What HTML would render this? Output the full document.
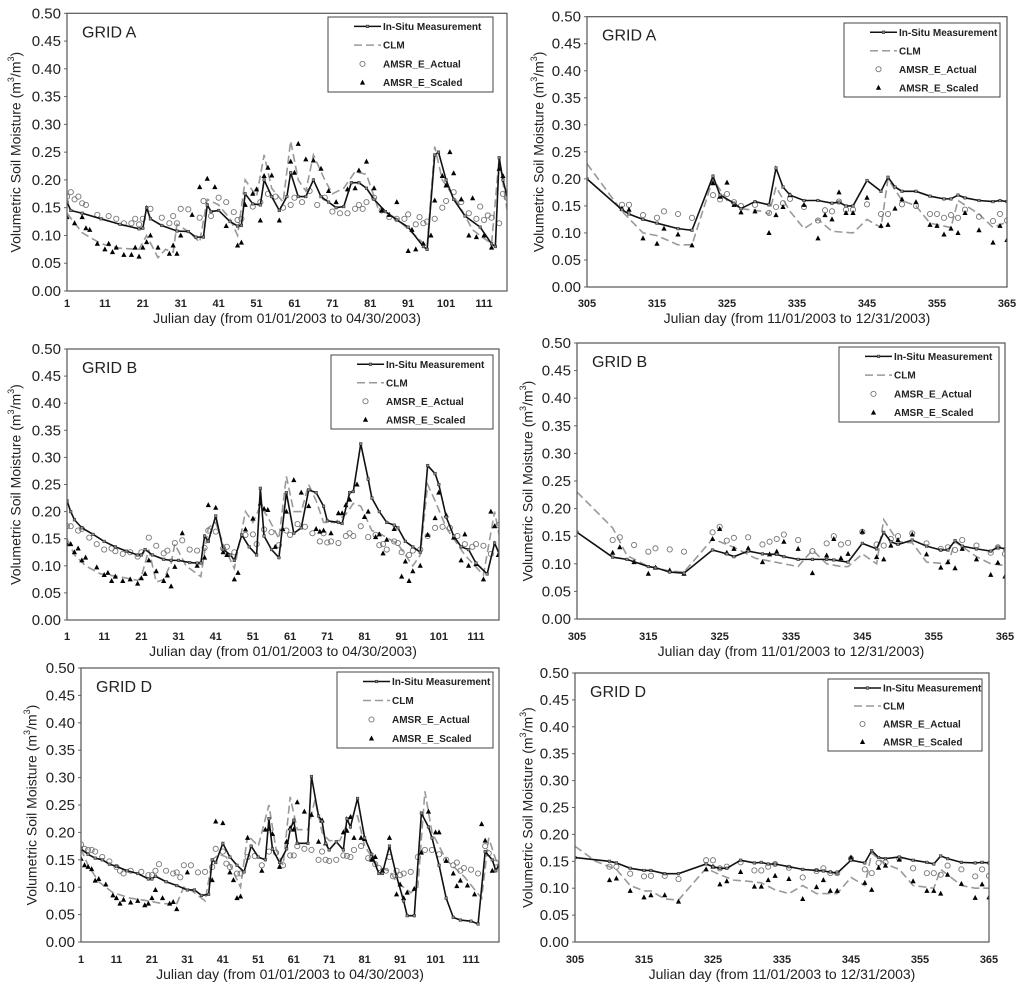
<!DOCTYPE html>
<html><head><meta charset="utf-8">
<style>
html,body{margin:0;padding:0;background:#fff;}
svg{display:block;font-family:"Liberation Sans",Arial,sans-serif;}
</style></head>
<body>
<svg id="chart" width="1024" height="988" viewBox="0 0 1024 988" xmlns="http://www.w3.org/2000/svg"></svg>
<script>
// ---------- DATA ----------
const yTicks = [0,0.05,0.10,0.15,0.20,0.25,0.30,0.35,0.40,0.45,0.50];
const xTicksSpring = [1,11,21,31,41,51,61,71,81,91,101,111];
const xTicksWinter = [305,315,325,335,345,355,365];
const legendLabels = ["In-Situ Measurement","CLM","AMSR_E_Actual","AMSR_E_Scaled"];

// Grid A spring
const aL_insitu_days=[1,2,5,10,15,20,21,22,23,26,30,33,35,37,38,39,41,44,46,47,48,50,52,53,55,57,59,60,62,64,66,68,70,72,74,76,78,80,82,85,88,91,95,96,98,99,101,103,106,110,113,114,115,116,118,120];
const aL_insitu_vals=[0.16,0.145,0.14,0.13,0.12,0.112,0.113,0.15,0.13,0.118,0.108,0.107,0.097,0.097,0.155,0.143,0.145,0.125,0.117,0.118,0.175,0.157,0.155,0.2,0.17,0.145,0.17,0.213,0.17,0.17,0.2,0.17,0.16,0.15,0.152,0.195,0.195,0.185,0.165,0.143,0.128,0.115,0.08,0.075,0.245,0.25,0.2,0.165,0.135,0.115,0.085,0.08,0.24,0.2,0.145,0.13];
const aL_clm_days=[1,5,10,15,20,22,25,27,29,30,33,36,38,41,44,46,48,51,53,55,58,60,62,64,66,69,71,74,77,80,83,88,92,96,98,100,104,108,113,115,117,119];
const aL_clm_vals=[0.14,0.105,0.085,0.077,0.075,0.1,0.06,0.075,0.07,0.12,0.107,0.088,0.165,0.155,0.13,0.1,0.2,0.17,0.245,0.185,0.16,0.27,0.2,0.18,0.245,0.2,0.175,0.185,0.215,0.21,0.15,0.13,0.105,0.08,0.26,0.2,0.16,0.11,0.085,0.24,0.15,0.17];
const aL_act_days=[1,2,3,4,5,6,9,12,14,16,18,19,20,21,23,26,28,29,30,31,33,36,37,39,41,43,45,46,47,50,52,54,56,58,60,61,63,65,67,69,71,73,75,77,78,79,80,82,84,86,88,90,91,93,94,95,96,98,100,101,103,105,107,109,110,111,112,113,115,116,117];
const aL_act_vals=[0.17,0.178,0.165,0.17,0.158,0.155,0.137,0.135,0.13,0.122,0.122,0.13,0.12,0.13,0.148,0.132,0.122,0.135,0.122,0.148,0.147,0.132,0.162,0.135,0.168,0.16,0.142,0.128,0.13,0.152,0.16,0.175,0.17,0.15,0.155,0.168,0.16,0.18,0.155,0.168,0.143,0.14,0.14,0.148,0.155,0.148,0.16,0.168,0.145,0.133,0.13,0.13,0.138,0.12,0.133,0.122,0.125,0.13,0.15,0.162,0.178,0.16,0.14,0.13,0.152,0.128,0.136,0.132,0.122,0.175,0.168];
const aL_sc_days=[1,3,5,6,7,9,11,12,13,14,16,18,19,20,21,22,23,25,28,29,30,31,34,36,38,40,43,46,47,48,50,51,52,53,54,55,57,60,61,62,64,66,68,70,72,75,77,78,80,82,84,86,88,91,92,93,95,97,98,100,101,102,103,105,107,108,109,111,113,115,116,118];
const aL_sc_vals=[0.133,0.122,0.133,0.113,0.11,0.085,0.075,0.085,0.07,0.078,0.065,0.065,0.078,0.062,0.078,0.088,0.1,0.078,0.067,0.082,0.067,0.1,0.137,0.187,0.202,0.187,0.117,0.082,0.087,0.155,0.175,0.183,0.127,0.207,0.222,0.208,0.127,0.233,0.213,0.265,0.237,0.235,0.22,0.18,0.16,0.183,0.185,0.217,0.233,0.185,0.145,0.137,0.16,0.072,0.11,0.075,0.085,0.1,0.163,0.207,0.19,0.25,0.212,0.165,0.1,0.167,0.097,0.1,0.078,0.22,0.207,0.13];

// Grid A winter
const aR_insitu_days=[305,310,311,313,315,318,320,323,324,326,327,329,331,332,333,334,336,338,340,341,342,343,345,347,348,349,350,352,354,356,357,358,359,361,363,364,365];
const aR_insitu_vals=[0.2,0.143,0.135,0.125,0.118,0.108,0.105,0.205,0.17,0.155,0.145,0.158,0.152,0.22,0.185,0.17,0.16,0.16,0.155,0.157,0.15,0.15,0.197,0.177,0.203,0.185,0.177,0.177,0.168,0.163,0.163,0.17,0.165,0.16,0.158,0.16,0.158];
const aR_clm_days=[305,310,313,315,318,320,323,325,327,330,331,332,334,336,338,340,343,345,347,348,350,352,354,357,358,361,363,365];
const aR_clm_vals=[0.228,0.14,0.1,0.095,0.078,0.078,0.2,0.16,0.145,0.14,0.135,0.185,0.14,0.108,0.125,0.103,0.1,0.125,0.11,0.2,0.16,0.15,0.118,0.11,0.16,0.135,0.11,0.12];
const aR_act_days=[310,311,313,315,316,318,320,323,324,325,326,327,329,331,332,333,334,336,338,339,340,341,342,343,345,347,348,350,352,354,355,356,357,358,359,361,363,364,365];
const aR_act_vals=[0.152,0.152,0.133,0.128,0.14,0.135,0.128,0.17,0.162,0.172,0.157,0.15,0.152,0.137,0.148,0.155,0.163,0.148,0.123,0.142,0.14,0.158,0.143,0.143,0.153,0.135,0.135,0.153,0.15,0.135,0.135,0.128,0.133,0.128,0.143,0.13,0.122,0.135,0.123];
const aR_sc_days=[310,311,313,315,316,318,320,323,324,325,326,327,329,331,332,333,334,336,338,339,340,341,342,343,345,347,348,349,350,352,354,355,356,357,358,359,361,363,364,365];
const aR_sc_vals=[0.145,0.143,0.09,0.08,0.108,0.097,0.077,0.192,0.167,0.193,0.152,0.138,0.14,0.1,0.133,0.148,0.17,0.152,0.09,0.133,0.125,0.175,0.137,0.137,0.165,0.113,0.115,0.145,0.162,0.157,0.115,0.113,0.097,0.108,0.1,0.137,0.105,0.082,0.113,0.087];

// Grid B spring
const bL_insitu_days=[1,2,3,5,8,11,14,17,20,21,22,24,27,29,31,34,36,37,38,39,41,43,45,46,48,50,52,53,54,56,58,60,62,64,66,68,70,71,74,75,77,78,80,82,83,85,87,89,90,92,94,96,98,100,101,103,105,107,109,111,114,116,118,119,121];
const bL_insitu_vals=[0.22,0.2,0.185,0.17,0.158,0.145,0.135,0.127,0.12,0.12,0.13,0.12,0.112,0.11,0.11,0.106,0.105,0.105,0.155,0.145,0.192,0.13,0.12,0.11,0.157,0.135,0.12,0.243,0.155,0.13,0.115,0.235,0.16,0.17,0.24,0.235,0.21,0.183,0.18,0.178,0.235,0.237,0.325,0.26,0.225,0.2,0.18,0.175,0.17,0.145,0.135,0.125,0.285,0.27,0.25,0.19,0.155,0.135,0.13,0.105,0.085,0.142,0.11,0.093,0.11];
const bL_clm_days=[1,3,6,10,15,20,21,23,25,27,29,30,33,37,39,41,43,46,49,51,53,55,58,60,62,64,66,68,70,73,76,78,80,83,85,90,92,94,96,98,100,103,108,113,116,118,120];
const bL_clm_vals=[0.15,0.12,0.1,0.085,0.08,0.073,0.08,0.13,0.07,0.075,0.105,0.14,0.1,0.08,0.17,0.18,0.14,0.095,0.2,0.18,0.21,0.19,0.15,0.265,0.2,0.2,0.25,0.22,0.18,0.18,0.195,0.215,0.21,0.165,0.16,0.14,0.12,0.1,0.12,0.25,0.22,0.17,0.12,0.083,0.2,0.13,0.17];
const bL_act_days=[1,2,4,5,7,9,11,13,14,16,18,20,21,23,25,27,28,30,32,34,36,38,39,41,43,44,46,49,51,52,54,56,58,60,61,63,65,67,69,70,71,72,74,76,77,78,80,82,84,85,86,87,89,90,91,93,94,96,98,100,102,104,106,108,110,111,113,115,117,118,119,120];
const bL_act_vals=[0.173,0.173,0.165,0.168,0.152,0.14,0.13,0.132,0.127,0.122,0.125,0.117,0.125,0.152,0.137,0.123,0.128,0.142,0.147,0.13,0.128,0.133,0.165,0.163,0.132,0.135,0.125,0.157,0.158,0.14,0.167,0.162,0.138,0.165,0.157,0.177,0.172,0.16,0.145,0.16,0.143,0.145,0.142,0.155,0.16,0.155,0.173,0.153,0.157,0.138,0.14,0.13,0.145,0.142,0.125,0.12,0.128,0.13,0.155,0.17,0.172,0.17,0.155,0.14,0.135,0.14,0.137,0.122,0.175,0.163,0.143,0.143];
const bL_sc_days=[1,2,3,4,5,6,9,11,12,13,14,16,18,20,21,22,23,25,27,28,29,30,32,36,38,39,41,43,44,46,47,49,51,53,54,55,57,59,60,62,64,66,68,69,70,72,74,75,76,77,79,81,82,84,85,86,87,89,91,92,93,94,96,98,100,101,103,105,107,108,109,111,113,115,116,117,118];
const bL_sc_vals=[0.14,0.14,0.125,0.132,0.11,0.115,0.097,0.083,0.087,0.072,0.08,0.072,0.075,0.067,0.077,0.085,0.11,0.09,0.072,0.082,0.062,0.098,0.16,0.1,0.115,0.212,0.207,0.125,0.12,0.075,0.087,0.167,0.187,0.215,0.205,0.203,0.135,0.168,0.2,0.258,0.235,0.21,0.168,0.163,0.165,0.16,0.197,0.197,0.212,0.222,0.25,0.19,0.2,0.153,0.158,0.123,0.148,0.168,0.08,0.108,0.072,0.09,0.1,0.157,0.188,0.235,0.193,0.152,0.11,0.158,0.1,0.103,0.075,0.2,0.173,0.12,0.123];

// Grid B winter
const bR_insitu_days=[305,310,312,315,316,318,320,324,326,327,329,331,333,334,336,338,340,341,343,345,347,348,349,350,352,354,356,357,358,359,361,363,364,365];
const bR_insitu_vals=[0.157,0.112,0.108,0.095,0.093,0.085,0.083,0.125,0.118,0.113,0.123,0.118,0.117,0.113,0.108,0.108,0.108,0.107,0.103,0.137,0.127,0.157,0.14,0.135,0.143,0.132,0.125,0.125,0.142,0.132,0.127,0.123,0.13,0.127];
const bR_clm_days=[305,310,312,315,318,320,324,327,330,334,336,338,340,342,343,345,347,348,350,352,354,357,358,361,363,365];
const bR_clm_vals=[0.23,0.165,0.115,0.095,0.087,0.085,0.145,0.13,0.11,0.1,0.095,0.125,0.1,0.095,0.095,0.118,0.1,0.18,0.14,0.138,0.103,0.1,0.14,0.113,0.1,0.097];
const bR_act_days=[310,311,313,315,316,318,320,324,325,326,327,329,331,332,333,334,336,338,340,341,342,343,345,347,348,349,350,352,354,356,357,358,359,361,363,364,365];
const bR_act_vals=[0.143,0.148,0.134,0.122,0.128,0.126,0.122,0.157,0.167,0.142,0.147,0.148,0.135,0.14,0.145,0.153,0.143,0.123,0.137,0.15,0.135,0.138,0.158,0.135,0.133,0.145,0.15,0.155,0.137,0.127,0.13,0.125,0.143,0.133,0.12,0.13,0.118];
const bR_sc_days=[310,311,313,315,316,318,320,324,325,326,327,329,331,332,333,334,336,338,340,341,342,343,345,347,348,349,350,352,354,356,357,358,359,361,363,364,365];
const bR_sc_vals=[0.12,0.13,0.103,0.082,0.093,0.088,0.082,0.145,0.163,0.12,0.127,0.128,0.103,0.117,0.122,0.14,0.127,0.083,0.115,0.145,0.11,0.118,0.158,0.112,0.108,0.133,0.143,0.153,0.117,0.093,0.103,0.092,0.127,0.108,0.08,0.102,0.077];

// Grid D spring
const dL_insitu_days=[1,3,5,7,9,11,14,17,20,21,22,25,28,31,33,35,37,38,39,41,43,45,47,49,51,53,54,55,57,59,60,61,62,65,66,68,69,70,71,73,75,76,77,79,81,83,85,86,88,90,92,93,95,97,99,100,102,104,106,108,111,113,115,117,118,120];
const dL_insitu_vals=[0.17,0.16,0.153,0.15,0.142,0.138,0.13,0.125,0.115,0.115,0.12,0.11,0.103,0.095,0.095,0.085,0.087,0.15,0.145,0.18,0.155,0.14,0.128,0.175,0.155,0.15,0.225,0.17,0.145,0.17,0.205,0.222,0.18,0.18,0.302,0.23,0.22,0.18,0.168,0.183,0.168,0.225,0.21,0.262,0.19,0.16,0.125,0.125,0.175,0.12,0.075,0.048,0.048,0.235,0.21,0.19,0.14,0.08,0.045,0.04,0.038,0.033,0.165,0.15,0.13,0.155];
const dL_clm_days=[1,3,6,10,15,20,24,28,30,32,36,38,40,42,46,48,51,54,56,58,60,62,65,67,69,71,74,77,79,81,85,88,90,94,96,98,100,104,109,114,116,119,121];
const dL_clm_vals=[0.17,0.14,0.11,0.09,0.08,0.075,0.07,0.07,0.1,0.095,0.075,0.15,0.16,0.155,0.1,0.195,0.175,0.25,0.17,0.14,0.265,0.205,0.205,0.26,0.2,0.185,0.185,0.23,0.23,0.175,0.135,0.13,0.11,0.09,0.1,0.275,0.2,0.15,0.12,0.08,0.19,0.13,0.18];
const dL_act_days=[1,2,3,4,5,7,9,11,12,13,15,18,20,21,22,23,25,27,28,29,30,32,34,36,38,39,41,42,43,45,46,48,50,52,54,56,58,60,61,62,64,66,68,69,70,71,73,75,76,77,78,80,82,83,84,85,87,88,89,90,91,92,94,96,98,100,102,104,106,107,108,109,111,113,115,116,118];
const dL_act_vals=[0.178,0.17,0.168,0.168,0.165,0.155,0.147,0.137,0.13,0.125,0.13,0.128,0.122,0.122,0.13,0.142,0.13,0.125,0.127,0.118,0.14,0.14,0.127,0.128,0.137,0.17,0.165,0.143,0.137,0.125,0.125,0.155,0.157,0.14,0.165,0.163,0.14,0.158,0.158,0.175,0.17,0.168,0.15,0.165,0.15,0.148,0.15,0.158,0.157,0.155,0.168,0.175,0.153,0.153,0.142,0.135,0.13,0.155,0.12,0.13,0.122,0.125,0.128,0.155,0.168,0.168,0.16,0.15,0.14,0.145,0.13,0.135,0.132,0.125,0.175,0.162,0.145];
const dL_sc_days=[1,2,3,4,5,6,8,10,11,12,13,15,17,19,20,21,22,24,26,27,28,31,38,39,41,43,44,45,46,48,52,53,54,55,57,59,60,61,62,64,66,68,69,70,75,76,77,78,80,81,83,84,86,88,90,91,92,93,95,97,99,101,102,104,106,107,108,110,112,114,115,117];
const dL_sc_vals=[0.152,0.14,0.137,0.133,0.112,0.115,0.105,0.085,0.08,0.07,0.077,0.072,0.075,0.067,0.07,0.08,0.095,0.08,0.07,0.073,0.06,0.127,0.113,0.22,0.217,0.127,0.113,0.08,0.083,0.19,0.13,0.205,0.207,0.197,0.137,0.183,0.208,0.205,0.255,0.238,0.232,0.183,0.222,0.18,0.2,0.203,0.228,0.19,0.19,0.188,0.15,0.155,0.13,0.19,0.087,0.105,0.08,0.09,0.097,0.163,0.238,0.2,0.2,0.148,0.125,0.102,0.112,0.103,0.087,0.215,0.185,0.13];

// Grid D winter
const dR_insitu_days=[305,310,311,313,315,316,318,320,324,325,326,327,329,331,332,333,334,336,338,340,341,342,343,345,347,348,349,350,352,354,356,357,358,359,361,363,364,365];
const dR_insitu_vals=[0.157,0.15,0.147,0.137,0.133,0.133,0.127,0.127,0.145,0.14,0.137,0.137,0.152,0.147,0.148,0.145,0.145,0.14,0.135,0.133,0.132,0.13,0.128,0.152,0.147,0.17,0.157,0.155,0.158,0.152,0.148,0.145,0.16,0.155,0.148,0.147,0.148,0.147];
const dR_clm_days=[305,308,311,313,315,316,318,320,324,326,328,330,332,334,336,338,340,342,343,345,347,348,350,352,354,357,358,361,363,365];
const dR_clm_vals=[0.178,0.15,0.135,0.105,0.095,0.095,0.08,0.078,0.137,0.125,0.115,0.113,0.11,0.097,0.09,0.105,0.09,0.09,0.09,0.12,0.105,0.165,0.145,0.135,0.105,0.1,0.135,0.105,0.1,0.1];
const dR_act_days=[310,311,313,315,316,318,320,324,325,326,327,329,331,332,333,334,336,338,340,341,342,343,345,347,348,349,350,352,354,356,357,358,359,361,363,364,365];
const dR_act_vals=[0.14,0.14,0.127,0.122,0.123,0.123,0.117,0.152,0.152,0.137,0.14,0.148,0.133,0.133,0.14,0.145,0.138,0.12,0.132,0.137,0.128,0.128,0.155,0.135,0.128,0.147,0.148,0.155,0.137,0.128,0.128,0.125,0.142,0.135,0.122,0.135,0.123];
const dR_sc_days=[310,311,313,315,316,318,320,324,325,326,327,329,331,332,333,334,336,338,340,341,342,343,345,347,348,349,350,352,354,356,357,358,359,361,363,364,365];
const dR_sc_vals=[0.115,0.118,0.095,0.083,0.087,0.087,0.075,0.135,0.14,0.107,0.113,0.13,0.103,0.103,0.115,0.123,0.117,0.08,0.102,0.115,0.095,0.095,0.157,0.11,0.097,0.138,0.142,0.153,0.113,0.095,0.095,0.09,0.125,0.108,0.082,0.107,0.083];

// ---------- DRAWING ----------
const NS="http://www.w3.org/2000/svg";
const svg=document.getElementById('chart');
function mk(tag,attrs,parent){const e=document.createElementNS(NS,tag);for(const k in attrs)e.setAttribute(k,attrs[k]);(parent||svg).appendChild(e);return e;}

const panels=[
 {id:'grid-a-spring',title:'GRID A',L:67,R:507,T:13.3,B:291,d0:1,dTick:111,xTickPx:484,ticks:xTicksSpring,xTitle:'Julian day (from 01/01/2003 to 04/30/2003)',tickY:307,titleY:323,yTitleX:17,leg:[328,17,493,92],ins:[aL_insitu_days,aL_insitu_vals],clm:[aL_clm_days,aL_clm_vals],act:[aL_act_days,aL_act_vals],sc:[aL_sc_days,aL_sc_vals]},
 {id:'grid-a-winter',title:'GRID A',L:587,R:1007,T:16.7,B:287,d0:305,dTick:365,xTickPx:1007,ticks:xTicksWinter,xTitle:'Julian day (from 11/01/2003 to 12/31/2003)',tickY:307,titleY:323,yTitleX:540,leg:[844,23,1000,97],ins:[aR_insitu_days,aR_insitu_vals],clm:[aR_clm_days,aR_clm_vals],act:[aR_act_days,aR_act_vals],sc:[aR_sc_days,aR_sc_vals]},
 {id:'grid-b-spring',title:'GRID B',L:67,R:499,T:349,B:620,d0:1,dTick:111,xTickPx:476,ticks:xTicksSpring,xTitle:'Julian day (from 01/01/2003 to 04/30/2003)',tickY:640,titleY:656,yTitleX:17,leg:[331,355,493,429],ins:[bL_insitu_days,bL_insitu_vals],clm:[bL_clm_days,bL_clm_vals],act:[bL_act_days,bL_act_vals],sc:[bL_sc_days,bL_sc_vals]},
 {id:'grid-b-winter',title:'GRID B',L:577,R:1005,T:343,B:619,d0:305,dTick:365,xTickPx:1005,ticks:xTicksWinter,xTitle:'Julian day (from 11/01/2003 to 12/31/2003)',tickY:640,titleY:656,yTitleX:529,leg:[839,347,999,422],ins:[bR_insitu_days,bR_insitu_vals],clm:[bR_clm_days,bR_clm_vals],act:[bR_act_days,bR_act_vals],sc:[bR_sc_days,bR_sc_vals]},
 {id:'grid-d-spring',title:'GRID D',L:81,R:499,T:668,B:942,d0:1,dTick:111,xTickPx:471,ticks:xTicksSpring,xTitle:'Julian day (from 01/01/2003 to 04/30/2003)',tickY:963,titleY:979,yTitleX:33,leg:[337,672,493,748],ins:[dL_insitu_days,dL_insitu_vals],clm:[dL_clm_days,dL_clm_vals],act:[dL_act_days,dL_act_vals],sc:[dL_sc_days,dL_sc_vals]},
 {id:'grid-d-winter',title:'GRID D',L:575,R:989,T:673,B:942,d0:305,dTick:365,xTickPx:989,ticks:xTicksWinter,xTitle:'Julian day (from 11/01/2003 to 12/31/2003)',tickY:963,titleY:979,yTitleX:529,leg:[828,679,982,751],ins:[dR_insitu_days,dR_insitu_vals],clm:[dR_clm_days,dR_clm_vals],act:[dR_act_days,dR_act_vals],sc:[dR_sc_days,dR_sc_vals]}
];

panels.forEach((p,pi)=>{
  const g=mk('g',{});
  
  
  const pxPerDay=(p.xTickPx-p.L)/(p.dTick-p.d0);
  const xs=d=>p.L+(d-p.d0)*pxPerDay;
  const ys=v=>p.B-(v/0.5)*(p.B-p.T);
  const clipId='clip'+pi;
  const cp=mk('clipPath',{id:clipId},g);
  mk('rect',{x:p.L,y:p.T-6,width:p.R-p.L,height:p.B-p.T+12},cp);

  // y ticks
  yTicks.forEach(v=>{
    const t=mk('text',{x:p.L-6,y:ys(v)+5,'text-anchor':'end','font-size':'15',fill:'#222'},g);
    t.textContent=v.toFixed(2);
    
    
    mk('line',{x1:p.L-3,x2:p.L,y1:ys(v),y2:ys(v),stroke:'#666','stroke-width':1},g);
  });
  p.ticks.forEach(d=>{
    const t=mk('text',{x:xs(d),y:p.tickY,'text-anchor':'middle','font-size':'11','font-weight':'bold',fill:'#222'},g);
    t.textContent=d;
    
    
  });
  const xt=mk('text',{x:(p.L+p.R)/2,y:p.titleY,'text-anchor':'middle','font-size':'14',fill:'#222'},g);
  xt.textContent=p.xTitle;
  
  
  const cy=(p.T+p.B)/2;
  const yt=mk('text',{x:p.yTitleX,y:cy,'text-anchor':'middle','font-size':'14',fill:'#222',transform:`rotate(-90 ${p.yTitleX} ${cy})`,'dominant-baseline':'middle'},g);
  yt.innerHTML='Volumetric Soil Moisture (m<tspan baseline-shift="super" font-size="9">3</tspan>/m<tspan baseline-shift="super" font-size="9">3</tspan>)';
  
  

  const title=mk('text',{x:p.L+15,y:p.T+24,'font-size':'16',fill:'#222'},g);
  title.textContent=p.title;
  
  

  const plot=mk('g',{'clip-path':`url(#${clipId})`},g);
  // CLM
  const clmPts=p.clm[0].map((d,i)=>xs(d)+','+ys(p.clm[1][i])).join(' ');
  const clm=mk('polyline',{points:clmPts,fill:'none',stroke:'#999','stroke-width':1.6,'stroke-dasharray':'8,4'},plot);
  
  
  // actual circles
  p.act[0].forEach((d,i)=>{
    const c=mk('circle',{cx:xs(d),cy:ys(p.act[1][i]),r:2.6,fill:'none',stroke:'#777','stroke-width':0.9},plot);
    
    
  });
  // scaled triangles
  p.sc[0].forEach((d,i)=>{
    const x=xs(d),y=ys(p.sc[1][i]);
    const t=mk('polygon',{points:`${x},${y-3} ${x-2.6},${y+2} ${x+2.6},${y+2}`,fill:'#000'},plot);
    
    
  });
  // in-situ
  const insPts=p.ins[0].map((d,i)=>xs(d)+','+ys(p.ins[1][i])).join(' ');
  const ins=mk('polyline',{points:insPts,fill:'none',stroke:'#111','stroke-width':1.6},plot);
  
  
  p.ins[0].forEach((d,i)=>{
    const m=mk('rect',{x:xs(d)-1.3,y:ys(p.ins[1][i])-1.3,width:2.6,height:2.6,fill:'#888',stroke:'#222','stroke-width':0.5},plot);
    
    
  });

  // axes box
  const box=mk('rect',{x:p.L,y:p.T,width:p.R-p.L,height:p.B-p.T,fill:'none',stroke:'#555','stroke-width':1.2},g);
  
  

  // legend
  const [lx0,ly0,lx1,ly1]=p.leg;
  const lg=mk('g',{},g);
  
  
  mk('rect',{x:lx0,y:ly0,width:lx1-lx0,height:ly1-ly0,fill:'#fff',stroke:'#444','stroke-width':1},lg);
  const rowH=(ly1-ly0)/4;
  legendLabels.forEach((lab,i)=>{
    const ry=ly0+rowH*(i+0.5);
    const sx0=lx0+26,sx1=lx0+53;
    const entry=mk('g',{},lg);
    
    
    if(i===0){mk('line',{x1:sx0,x2:sx1,y1:ry,y2:ry,stroke:'#111','stroke-width':1.6},entry);mk('rect',{x:(sx0+sx1)/2-1.3,y:ry-1.3,width:2.6,height:2.6,fill:'#888',stroke:'#222','stroke-width':0.5},entry);}
    if(i===1){mk('line',{x1:sx0,x2:sx1,y1:ry,y2:ry,stroke:'#999','stroke-width':1.6,'stroke-dasharray':'8,4'},entry);}
    if(i===2){mk('circle',{cx:(sx0+sx1)/2-5,cy:ry,r:2.6,fill:'none',stroke:'#777','stroke-width':0.9},entry);}
    if(i===3){const x=(sx0+sx1)/2-5;mk('polygon',{points:`${x},${ry-3} ${x-2.6},${ry+2} ${x+2.6},${ry+2}`,fill:'#000'},entry);}
    const t=mk('text',{x:sx1+2,y:ry+3.5,'font-size':'10','font-weight':'bold',fill:'#222'},entry);
    t.textContent=lab;
  });
});
</script>
</body></html>
